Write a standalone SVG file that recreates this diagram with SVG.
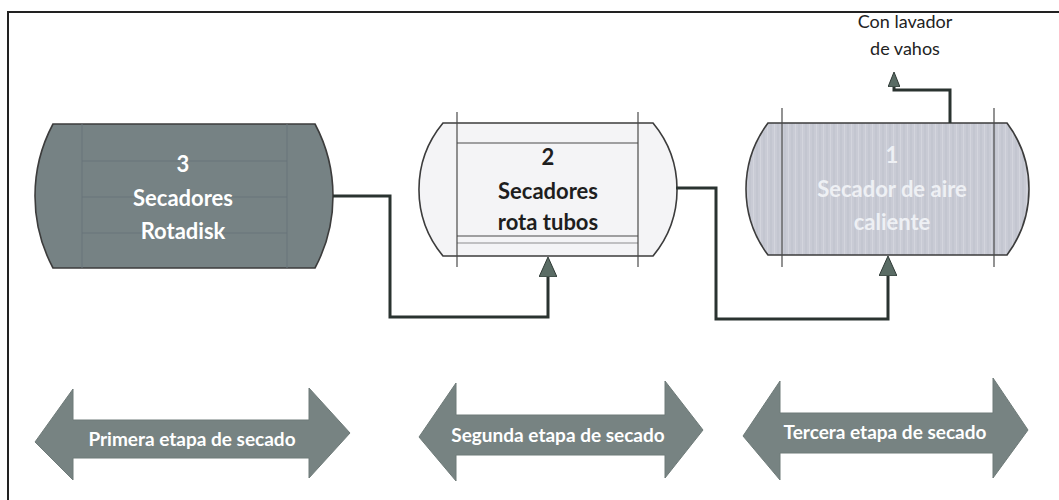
<svg xmlns="http://www.w3.org/2000/svg" width="1059" height="500" viewBox="0 0 1059 500">
  <defs>
    <pattern id="stripeLight" width="7" height="6" patternUnits="userSpaceOnUse">
      <rect width="7" height="6" fill="#c9cbd5"/>
      <line x1="1" y1="0" x2="1" y2="6" stroke="#bec1cb" stroke-width="1"/>
      <line x1="4.5" y1="0" x2="4.5" y2="6" stroke="#d3d5dd" stroke-width="1"/>
    </pattern>
    <marker id="ah" viewBox="0 0 20 18" refX="0" refY="9" markerWidth="20" markerHeight="18" markerUnits="userSpaceOnUse" orient="auto">
      <path d="M0,0 L20,9 L0,18 Z" fill="#5a6c65" stroke="#2f3a36" stroke-width="1"/>
    </marker>
    <marker id="ahs" viewBox="0 0 15 12" refX="0" refY="6" markerWidth="15" markerHeight="12" markerUnits="userSpaceOnUse" orient="auto">
      <path d="M0,0 L15,6 L0,12 Z" fill="#5a6c65" stroke="#2f3a36" stroke-width="1"/>
    </marker>
  </defs>
  <style>
    .frame { fill: none; stroke: #222; stroke-width: 2; }
    .vessel { stroke: #3c3c3c; stroke-width: 1.6; }
    .inner { stroke: #4a4a4a; stroke-width: 1.2; fill: none; }
    .innerDark { stroke: #69757a; stroke-width: 1; fill: none; }
    .conn { fill: none; stroke: #2a3330; stroke-width: 3; }
    .lbl { font-family: Lato, "Liberation Sans", sans-serif; font-weight: bold; font-size: 22px; text-anchor: middle; }
    .stage { fill: #778382; stroke: #6f7b79; stroke-width: 1; }
    .stageTxt { font-family: Lato, "Liberation Sans", sans-serif; font-weight: bold; font-size: 19px; fill: #ffffff; text-anchor: middle; }
    .note { font-family: Lato, "Liberation Sans", sans-serif; font-size: 18px; fill: #222; text-anchor: middle; }
  </style>

  <rect width="1059" height="500" fill="#ffffff"/>
  <path class="frame" d="M8,500 V12 H1059"/>

  <g id="node-3">
    <path class="vessel" fill="#768284" stroke="#5d686a" d="M53,124 H315 A153,153 0 0 1 315,268 H53 A153,153 0 0 1 53,124 Z"/>
    <line class="innerDark" x1="82" y1="124" x2="82" y2="268"/>
    <line class="innerDark" x1="287" y1="124" x2="287" y2="268"/>
    <line class="innerDark" x1="82" y1="161" x2="287" y2="161"/>
    <line class="innerDark" x1="82" y1="197" x2="287" y2="197"/>
    <line class="innerDark" x1="82" y1="233" x2="287" y2="233"/>
    <text class="lbl" fill="#ffffff" x="183" y="172">3</text>
    <text class="lbl" fill="#ffffff" x="183" y="206">Secadores</text>
    <text class="lbl" fill="#ffffff" x="183" y="239">Rotadisk</text>
  </g>

  <g id="node-2">
    <path class="vessel" fill="#f4f4f6" d="M443,123 H653 A104,104 0 0 1 653,256 H443 A104,104 0 0 1 443,123 Z"/>
    <line class="inner" x1="457" y1="112" x2="457" y2="267"/>
    <line class="inner" x1="638" y1="112" x2="638" y2="267"/>
    <line class="inner" x1="457" y1="143" x2="638" y2="143"/>
    <line class="inner" x1="457" y1="236" x2="638" y2="236"/>
    <line class="inner" x1="457" y1="243" x2="638" y2="243" stroke-opacity="0.6"/>
    <text class="lbl" fill="#1e1e1e" x="548" y="165">2</text>
    <text class="lbl" fill="#1e1e1e" x="548" y="199">Secadores</text>
    <text class="lbl" fill="#1e1e1e" x="548" y="230">rota tubos</text>
  </g>

  <g id="node-1">
    <path class="vessel" fill="url(#stripeLight)" d="M768,123 H1007 A110,110 0 0 1 1007,255 H768 A110,110 0 0 1 768,123 Z"/>
    <line class="inner" x1="782" y1="108" x2="782" y2="267"/>
    <line class="inner" x1="994" y1="108" x2="994" y2="267"/>
    <text class="lbl" fill="#eef0f4" x="892" y="163">1</text>
    <text class="lbl" fill="#eef0f4" x="892" y="197">Secador de aire</text>
    <text class="lbl" fill="#eef0f4" x="892" y="230">caliente</text>
  </g>

  <g id="note-lavador">
    <text class="note" x="905" y="28">Con lavador</text>
    <text class="note" x="905" y="55">de vahos</text>
  </g>

  <g id="connectors">
    <path class="conn" d="M333,196 H390 V317 H548 V277" marker-end="url(#ah)"/>
    <path class="conn" d="M676,188 H716 V319 H888 V276" marker-end="url(#ah)"/>
    <path class="conn" d="M950,123 V90 H894 V87" marker-end="url(#ahs)" stroke-width="2.5"/>
  </g>

  <g id="stage-1">
    <polygon class="stage" points="35,442 73,389 73,420 309,420 309,388 350,433 309,478 309,458 73,458 73,480"/>
    <text class="stageTxt" x="192" y="446">Primera etapa de secado</text>
  </g>
  <g id="stage-2">
    <polygon class="stage" points="419,437 456,383 456,415 665,415 665,381 703,430 665,478 665,455 456,455 456,481"/>
    <text class="stageTxt" x="558" y="442">Segunda etapa de secado</text>
  </g>
  <g id="stage-3">
    <polygon class="stage" points="743,436 780,381 780,413 993,413 993,378 1028,430 993,478 993,453 780,453 780,480"/>
    <text class="stageTxt" x="885" y="439">Tercera etapa de secado</text>
  </g>
</svg>
